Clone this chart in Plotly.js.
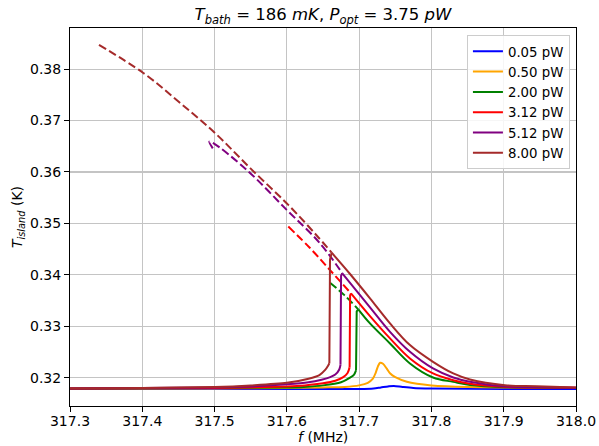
<!DOCTYPE html>
<html>
<head>
<meta charset="utf-8">
<script src="https://cdn.plot.ly/plotly-3.0.1.min.js"></script>
<style>html,body{margin:0;padding:0;background:#fff;}#chart{width:599px;height:446px;}</style>
</head>
<body>
<div id="chart"></div>
<script>
// ---- data ----
const seriesLabels = ['0.05 pW', '0.50 pW', '2.00 pW', '3.12 pW', '5.12 pW', '8.00 pW'];
const xTitle = '<i>f</i> (MHz)';
const yTitle = '<i>T</i><sub><i>island</i></sub> (K)';
const chartTitle = '<i>T</i><sub><i>bath</i></sub> = 186 <i>mK</i>, <i>P</i><sub><i>opt</i></sub> = 3.75 <i>pW</i>';

// 0.05 pW (single stable branch)
const f_005 = [317.3, 317.6, 317.7, 317.72, 317.73, 317.74, 317.748, 317.76, 317.775, 317.8, 317.9, 318.0];
const T_005 = [0.3178, 0.3178, 0.3178, 0.3179, 0.3181, 0.3183, 0.3184, 0.3182, 0.3180, 0.3179, 0.3178, 0.3178];

// 0.50 pW (single stable branch)
const f_050 = [317.3, 317.5, 317.6, 317.65, 317.68, 317.70, 317.712, 317.719, 317.723, 317.726, 317.729, 317.733, 317.738, 317.743, 317.75, 317.766, 317.78, 317.80, 317.85, 317.9, 318.0];
const T_050 = [0.3179, 0.3179, 0.3180, 0.3181, 0.3182, 0.3185, 0.3190, 0.3198, 0.3210, 0.3222, 0.3229, 0.3227, 0.3218, 0.3208, 0.3201, 0.3192, 0.3188, 0.3185, 0.3182, 0.3181, 0.3180];

// 2.00 pW: lower branch, jump (bottom, top), upper branch, unstable (dashed)
const f_200_low = [317.3, 317.5, 317.6, 317.623, 317.65, 317.675, 317.6874, 317.693, 317.6957];
const T_200_low = [0.3179, 0.3180, 0.3181, 0.3182, 0.3185, 0.3191, 0.3200, 0.3206, 0.3214];
const f_200_jump = [317.6957, 317.6966, 317.6988];
const T_200_jump = [0.3214, 0.3329, 0.3333];
const f_200_up = [317.6988, 317.715, 317.7427, 317.7703, 317.8022, 317.8302, 317.8533, 317.9018, 317.95, 318.0];
const T_200_up = [0.3333, 0.33056, 0.32666, 0.32277, 0.32004, 0.31918, 0.31858, 0.31815, 0.31805, 0.31801];
const f_200_unstable = [317.6597, 317.68, 317.6988];
const T_200_unstable = [0.33847, 0.3360, 0.33329];

// 3.12 pW
const f_312_low = [317.3, 317.5, 317.6, 317.625, 317.65, 317.667, 317.678, 317.684, 317.6868];
const T_312_low = [0.3179, 0.3180, 0.3183, 0.3185, 0.3189, 0.3194, 0.3201, 0.3209, 0.3220];
const f_312_jump = [317.6868, 317.6875, 317.6887];
const T_312_jump = [0.3220, 0.3360, 0.3364];
const f_312_up = [317.6887, 317.715, 317.7427, 317.7703, 317.8022, 317.8302, 317.8533, 317.9018, 317.95, 318.0];
const T_312_up = [0.3364, 0.33198, 0.32764, 0.32374, 0.32082, 0.31951, 0.31883, 0.31821, 0.31808, 0.31803];
const f_312_unstable = [317.602, 317.632, 317.6597, 317.6887];
const T_312_unstable = [0.34938, 0.34521, 0.34092, 0.33640];

// 5.12 pW
const f_512_low = [317.3, 317.4, 317.5, 317.55, 317.6, 317.63, 317.648, 317.66, 317.667, 317.6725, 317.6742];
const T_512_low = [0.3179, 0.3180, 0.3181, 0.3183, 0.3187, 0.3191, 0.3196, 0.3201, 0.3206, 0.3216, 0.3225];
const f_512_jump = [317.6742, 317.675, 317.6767];
const T_512_jump = [0.3225, 0.3398, 0.3403];
const f_512_up = [317.6767, 317.715, 317.7427, 317.7703, 317.8022, 317.8302, 317.8533, 317.9018, 317.95, 318.0];
const T_512_up = [0.3403, 0.33368, 0.32892, 0.32503, 0.32179, 0.32004, 0.31922, 0.31831, 0.31812, 0.31805];
const f_512_unstable = [317.4975, 317.4927, 317.4982, 317.5444, 317.5998, 317.6458, 317.6767];
const T_512_unstable = [0.3646, 0.3659, 0.36562, 0.36042, 0.35263, 0.34614, 0.34030];

// 8.00 pW
const f_800_low = [317.3, 317.4, 317.5, 317.55, 317.6, 317.63, 317.645, 317.653, 317.657, 317.6588];
const T_800_low = [0.3179, 0.3180, 0.3182, 0.3185, 0.3190, 0.3198, 0.3205, 0.3215, 0.3223, 0.3228];
const f_800_jump = [317.6588, 317.6597, 317.662];
const T_800_jump = [0.3228, 0.3430, 0.3443];
const f_800_up = [317.662, 317.6874, 317.715, 317.7427, 317.7703, 317.8022, 317.8302, 317.8533, 317.9018, 317.9456, 318.0];
const T_800_up = [0.3443, 0.34016, 0.33543, 0.33056, 0.32633, 0.32308, 0.32082, 0.31965, 0.31854, 0.31834, 0.31809];
const f_800_unstable = [317.3401, 317.4014, 317.45, 317.5006, 317.55, 317.602, 317.6413, 317.662];
const T_800_unstable = [0.38472, 0.37926, 0.37370, 0.36757, 0.36065, 0.35360, 0.34765, 0.34431];

// ---- styles ----
const lineColors = ['blue', 'orange', 'green', 'red', 'purple', 'brown'];
const LW = 2;

const single = [[f_005, T_005], [f_050, T_050], null, null, null, null];
const branches = [
  null, null,
  {low: [f_200_low, T_200_low], jump: [f_200_jump, T_200_jump], up: [f_200_up, T_200_up], uns: [f_200_unstable, T_200_unstable]},
  {low: [f_312_low, T_312_low], jump: [f_312_jump, T_312_jump], up: [f_312_up, T_312_up], uns: [f_312_unstable, T_312_unstable]},
  {low: [f_512_low, T_512_low], jump: [f_512_jump, T_512_jump], up: [f_512_up, T_512_up], uns: [f_512_unstable, T_512_unstable]},
  {low: [f_800_low, T_800_low], jump: [f_800_jump, T_800_jump], up: [f_800_up, T_800_up], uns: [f_800_unstable, T_800_unstable]}
];

const traces = [];
for (let i = 0; i < seriesLabels.length; i++) {
  const c = lineColors[i];
  const g = 'g' + i;
  if (single[i]) {
    traces.push({x: single[i][0], y: single[i][1], type: 'scatter', mode: 'lines', name: seriesLabels[i],
      legendgroup: g, line: {color: c, width: LW, shape: 'spline', smoothing: 0.8}, hoverinfo: 'skip'});
    continue;
  }
  const b = branches[i];
  traces.push({x: b.low[0], y: b.low[1], type: 'scatter', mode: 'lines', name: seriesLabels[i],
    legendgroup: g, line: {color: c, width: LW, shape: 'spline', smoothing: 0.8}, hoverinfo: 'skip'});
  traces.push({x: b.jump[0], y: b.jump[1], type: 'scatter', mode: 'lines', showlegend: false,
    legendgroup: g, line: {color: c, width: LW}, hoverinfo: 'skip'});
  traces.push({x: b.up[0], y: b.up[1], type: 'scatter', mode: 'lines', showlegend: false,
    legendgroup: g, line: {color: c, width: LW, shape: 'spline', smoothing: 1}, hoverinfo: 'skip'});
  traces.push({x: b.uns[0], y: b.uns[1], type: 'scatter', mode: 'lines', showlegend: false,
    legendgroup: g, line: {color: c, width: LW, dash: '8px,3.5px', shape: 'spline', smoothing: 1}, hoverinfo: 'skip'});
}

const layout = {
  width: 599, height: 446,
  margin: {l: 70, r: 23, t: 28, b: 40},
  paper_bgcolor: '#fff', plot_bgcolor: '#fff',
  font: {family: 'DejaVu Sans, sans-serif', color: '#000', size: 14},
  title: {
    text: chartTitle,
    font: {family: 'DejaVu Sans, sans-serif', size: 16.5, color: '#000'},
    x: 0.5, xref: 'paper', xanchor: 'center',
    y: 0.968, yref: 'container', yanchor: 'middle'
  },
  xaxis: {
    range: [317.3, 318.0], tick0: 317.3, dtick: 0.1, tickformat: '.1f',
    showgrid: true, gridcolor: '#c4c4c4', gridwidth: 1.2,
    showline: true, linecolor: '#000', linewidth: 1, mirror: true,
    ticks: 'outside', ticklen: 5, tickwidth: 1, tickcolor: '#000',
    ticklabelstandoff: -3,
    zeroline: false, automargin: false,
    tickfont: {size: 14}
  },
  yaxis: {
    range: [0.31449, 0.3880], tick0: 0.32, dtick: 0.01, tickformat: '.2f',
    showgrid: true, gridcolor: '#c4c4c4', gridwidth: 1.2,
    showline: true, linecolor: '#000', linewidth: 1, mirror: true,
    ticks: 'outside', ticklen: 5, tickwidth: 1, tickcolor: '#000',
    zeroline: false, automargin: false,
    title: {text: yTitle, font: {size: 14}, standoff: 4},
    tickfont: {size: 14}
  },
  annotations: [{
    text: xTitle, xref: 'paper', yref: 'paper', x: 0.5, y: -0.1058,
    xanchor: 'center', yanchor: 'bottom', showarrow: false, borderpad: 0,
    font: {family: 'DejaVu Sans, sans-serif', size: 14, color: '#000'}
  }],
  legend: {
    x: 0.988, xanchor: 'right', y: 0.981, yanchor: 'top',
    bgcolor: 'rgba(255,255,255,0.85)', bordercolor: '#cccccc', borderwidth: 1,
    font: {family: 'DejaVu Sans, sans-serif', size: 13.3, color: '#000'},
    tracegroupgap: 0
  },
  showlegend: true
};

Plotly.newPlot('chart', traces, layout, {staticPlot: true, displayModeBar: false});
</script>
</body>
</html>
